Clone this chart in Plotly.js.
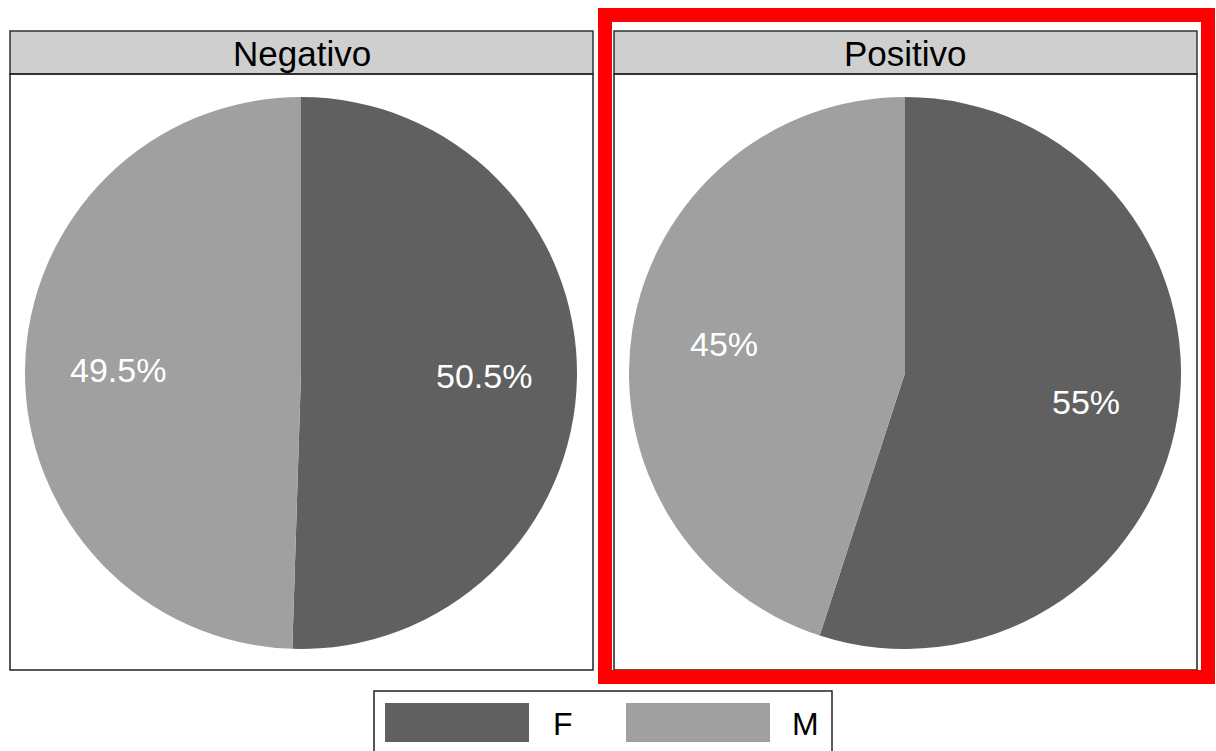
<!DOCTYPE html>
<html>
<head>
<meta charset="utf-8">
<script src="https://cdn.plot.ly/plotly-3.0.1.min.js"></script>
<style>html,body{margin:0;padding:0;background:#fff;}#chart{width:1216px;height:751px;}</style>
</head>
<body>
<div id="chart"></div>
<script>
// Data
const panels = ["Negativo", "Positivo"];
const categories = ["F", "M"];
const valuesNegativo = [50.5, 49.5];
const valuesPositivo = [55, 45];
const labelsNegativo = ["50.5%", "49.5%"];
const labelsPositivo = ["55%", "45%"];
const colors = ["#606060", "#a0a0a0"];

const W = 1216, H = 751;
const px = x => x / W;
const py = y => 1 - y / H;

const FONT = "Liberation Sans, Arial, sans-serif";

// layout geometry (pixels)
const panelBoxes = [
  {x0: 10, x1: 593},
  {x0: 614, x1: 1197}
];
const stripTop = 31, stripBot = 74, panelBot = 670;
const pieR = 276, pieCy = 373;
const pieCx = [301, 905];

const allValues = [valuesNegativo, valuesPositivo];
const allLabels = [labelsNegativo, labelsPositivo];

const traces = [];
const shapes = [];
const annotations = [];

panels.forEach((name, i) => {
  const vals = allValues[i];
  traces.push({
    type: "pie",
    labels: categories,
    values: vals,
    sort: false,
    direction: "clockwise",
    rotation: 0,
    marker: {colors: colors, line: {width: 0}},
    textinfo: "none",
    hoverinfo: "label+percent",
    showlegend: false,
    domain: {
      x: [px(pieCx[i] - pieR), px(pieCx[i] + pieR)],
      y: [py(pieCy + pieR), py(pieCy - pieR)]
    }
  });
  const b = panelBoxes[i];
  // strip
  shapes.push({type: "rect", xref: "paper", yref: "paper",
    x0: px(b.x0), x1: px(b.x1), y0: py(stripBot), y1: py(stripTop),
    fillcolor: "#cfcfcf", line: {color: "#333333", width: 1.5}});
  // panel border
  shapes.push({type: "rect", xref: "paper", yref: "paper",
    x0: px(b.x0), x1: px(b.x1), y0: py(panelBot), y1: py(stripBot),
    fillcolor: "rgba(0,0,0,0)", line: {color: "#222222", width: 1.5}});
  annotations.push({xref: "paper", yref: "paper",
    x: px((b.x0 + b.x1) / 2), y: py((stripTop + stripBot) / 2 + 1),
    text: name, showarrow: false, xanchor: "center", yanchor: "middle",
    font: {family: FONT, size: 35, color: "#000"}});
  // slice labels at mid-angle
  const total = vals.reduce((a, c) => a + c, 0);
  let cum = 0;
  vals.forEach((v, j) => {
    const mid = (cum + v / 2) / total * 2 * Math.PI;
    cum += v;
    const r = pieR * 0.663;
    const lx = pieCx[i] + r * Math.sin(mid);
    const ly = pieCy - r * Math.cos(mid);
    annotations.push({xref: "paper", yref: "paper", x: px(lx), y: py(ly),
      text: allLabels[i][j], showarrow: false, xanchor: "center", yanchor: "middle",
      font: {family: FONT, size: 34, color: "#ffffff"}});
  });
});

// highlight frame
shapes.push({type: "rect", xref: "paper", yref: "paper",
  x0: px(605), x1: px(1208), y0: py(677), y1: py(15),
  fillcolor: "rgba(0,0,0,0)", line: {color: "#ff0000", width: 14}});

// legend (manual)
shapes.push({type: "rect", xref: "paper", yref: "paper",
  x0: px(374), x1: px(832), y0: py(760), y1: py(691),
  fillcolor: "#ffffff", line: {color: "#222222", width: 1.5}});
const legSwX = [385, 626];
const legTxtX = [563, 805];
categories.forEach((c, k) => {
  shapes.push({type: "rect", xref: "paper", yref: "paper",
    x0: px(legSwX[k]), x1: px(legSwX[k] + 144), y0: py(742), y1: py(703),
    fillcolor: colors[k], line: {width: 0}});
  annotations.push({xref: "paper", yref: "paper", x: px(legTxtX[k]), y: py(724),
    text: c, showarrow: false, xanchor: "center", yanchor: "middle",
    font: {family: FONT, size: 32, color: "#000"}});
});

const layout = {
  width: W, height: H,
  margin: {l: 0, r: 0, t: 0, b: 0},
  paper_bgcolor: "#ffffff",
  showlegend: false,
  shapes: shapes,
  annotations: annotations
};

Plotly.newPlot("chart", traces, layout, {displayModeBar: false, staticPlot: true});
</script>
</body>
</html>
